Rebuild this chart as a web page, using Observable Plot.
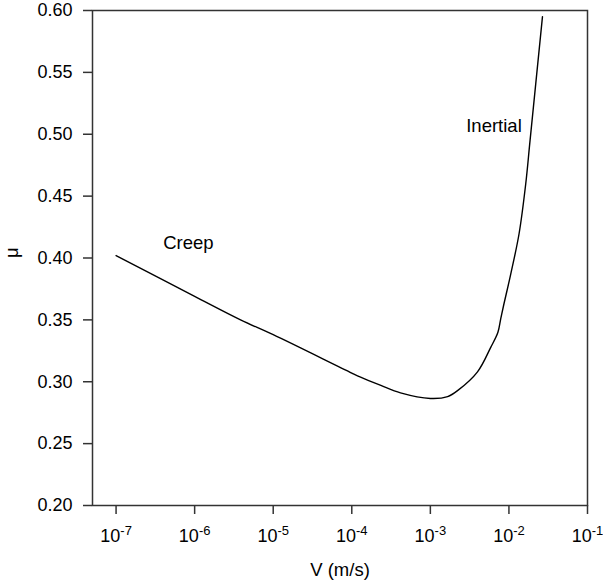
<!DOCTYPE html>
<html>
<head>
<meta charset="utf-8">
<script src="https://cdn.jsdelivr.net/npm/d3@7"></script>
<script src="https://cdn.jsdelivr.net/npm/@observablehq/plot@0.6"></script>
<style>
  body { margin: 0; background: #fff; }
  svg { font-family: "Liberation Sans", Arial, sans-serif; }
</style>
</head>
<body>
<div id="chart"></div>
<script>
// Velocity exponents (log10 of V in m/s) and friction coefficient
const logV = [-7, -6, -5.416, -5, -4, -3.888, -3.63, -3.38, -3.0, -2.78, -2.65, -2.40, -2.23, -2.14, -2.104, -2.07, -1.977, -1.871, -1.786, -1.731, -1.573];
const mu   = [0.402, 0.369, 0.350, 0.338, 0.307, 0.3037, 0.297, 0.291, 0.2865, 0.288, 0.293, 0.308, 0.328, 0.340, 0.351, 0.361, 0.387, 0.4196, 0.460, 0.495, 0.595];

const xTicks = [1e-7, 1e-6, 1e-5, 1e-4, 1e-3, 1e-2, 1e-1];
const yTicks = [0.20, 0.25, 0.30, 0.35, 0.40, 0.45, 0.50, 0.55, 0.60];

const labelText = ["Creep", "Inertial"];
const labelLogV = [-6.08, -2.19];
const labelMu   = [0.412, 0.507];

const data = logV.map((l, i) => ({V: Math.pow(10, l), mu: mu[i]}));
const labels = labelText.map((t, i) => ({t, V: Math.pow(10, labelLogV[i]), mu: labelMu[i]}));

const chart = Plot.plot({
  width: 603,
  height: 587,
  marginLeft: 92,
  marginRight: 16,
  marginTop: 10,
  marginBottom: 82,
  style: {fontSize: "18px", fontFamily: "'Liberation Sans', Arial, sans-serif", color: "#000", background: "#fff"},
  x: {type: "log", domain: [Math.pow(10, -7.3), 1e-1]},
  y: {domain: [0.2, 0.6]},
  marks: [
    Plot.frame({stroke: "#333", strokeWidth: 1.5}),
    Plot.axisX({ticks: xTicks, tickSize: 9, tickPadding: 15, tickFormat: d => "10^" + Math.round(Math.log10(d)), label: null, stroke: "#333", strokeWidth: 1.5, fontSize: 18}),
    Plot.axisY({ticks: yTicks, tickSize: 9, tickPadding: 11, tickFormat: d3.format(".2f"), label: null, stroke: "#333", strokeWidth: 1.5, fontSize: 18}),
    Plot.text(["V (m/s)"], {frameAnchor: "bottom", dy: 70, fontSize: 18.5, fill: "#000"}),
    Plot.text(["μ"], {frameAnchor: "left", dx: -80, rotate: -90, fontSize: 18.5, fill: "#000"}),
    Plot.line(data, {x: "V", y: "mu", curve: "catmull-rom", stroke: "#000", strokeWidth: 1.4}),
    Plot.text(labels, {x: "V", y: "mu", text: "t", fontSize: 18.5, fill: "#000"})
  ]
});

// Render "10^n" tick labels as 10 with a superscript exponent
d3.select(chart).selectAll('g[aria-label="x-axis tick label"] text').each(function() {
  const s = this.textContent;
  const [base, exp] = s.split("^");
  const t = d3.select(this);
  t.text(null);
  t.append("tspan").text(base);
  t.append("tspan").attr("dy", "-0.55em").attr("font-size", "13px").text(exp);
});

document.getElementById("chart").appendChild(chart);
</script>
</body>
</html>
